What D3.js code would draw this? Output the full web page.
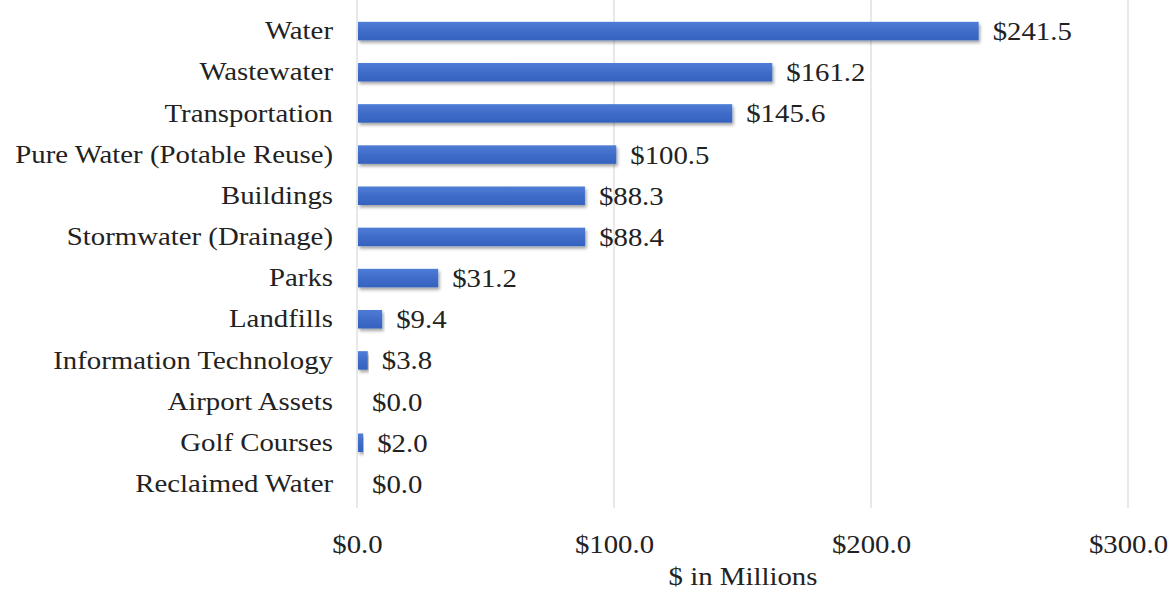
<!DOCTYPE html>
<html>
<head>
<meta charset="utf-8">
<script src="https://cdnjs.cloudflare.com/ajax/libs/d3/7.8.5/d3.min.js"></script>
<style>
  body { margin: 0; background: #fff; }
  svg text { font-family: "Liberation Serif", "Times New Roman", serif; fill: #222; }
</style>
</head>
<body>
<svg id="chart" width="1170" height="589"></svg>
<script>
const categories = [
  "Water", "Wastewater", "Transportation", "Pure Water (Potable Reuse)",
  "Buildings", "Stormwater (Drainage)", "Parks", "Landfills",
  "Information Technology", "Airport Assets", "Golf Courses", "Reclaimed Water"
];
const values = [241.5, 161.2, 145.6, 100.5, 88.3, 88.4, 31.2, 9.4, 3.8, 0.0, 2.0, 0.0];
const x_ticks = [0, 100, 200, 300];
const x_title = "$ in Millions";

const FONT = '"Liberation Serif", "Times New Roman", serif';
const FONT_SIZE = "25.5px";
const STRETCH = "scale(1.13,1)";

let svg = d3.select("#chart");
let fmt = (v) => "$" + d3.format(".1f")(v);

let x = d3.scaleLinear().domain([0, 300]).range([357, 1128]);
let y = d3.scaleBand().domain(categories).range([10.5, 504.5]).paddingInner(0.55).paddingOuter(0.275);

// Gradient and shadow for bars
let defs = svg.append("defs");
let grad = defs.append("linearGradient").attr("id", "bar-grad")
  .attr("x1", 0).attr("y1", 0).attr("x2", 0).attr("y2", 1);
grad.append("stop").attr("offset", "0%").attr("stop-color", "#4f7dd6");
grad.append("stop").attr("offset", "50%").attr("stop-color", "#3f6cc9");
grad.append("stop").attr("offset", "100%").attr("stop-color", "#3463be");
let shadow = defs.append("filter").attr("id", "shadow")
  .attr("x", "-5%").attr("y", "-30%").attr("width", "115%").attr("height", "180%");
shadow.append("feDropShadow").attr("dx", 1.5).attr("dy", 2.5)
  .attr("stdDeviation", 1.5).attr("flood-color", "#000").attr("flood-opacity", 0.35);

// Gridlines
svg.append("g").selectAll("line").data(x_ticks).join("line")
  .attr("x1", (d) => x(d)).attr("x2", (d) => x(d))
  .attr("y1", 0).attr("y2", 508)
  .style("stroke", "#d9d9d9").style("stroke-width", 1.2);

// Bars
svg.append("g").selectAll("rect").data(values).join("rect")
  .attr("x", x(0) + 1)
  .attr("y", (d, i) => y(categories[i]))
  .attr("width", (d) => Math.max(0, x(d) - x(0)))
  .attr("height", y.bandwidth())
  .attr("fill", "url(#bar-grad)")
  .attr("filter", "url(#shadow)");

// Value labels
svg.append("g").selectAll("text").data(values).join("text")
  .attr("transform", (d, i) =>
    `translate(${x(d) + 15},${y(categories[i]) + y.bandwidth() / 2}) ${STRETCH}`)
  .attr("dy", "0.35em")
  .style("font-size", FONT_SIZE)
  .text((d) => fmt(d));

// Category labels
let y_axis = d3.axisLeft(y).tickSize(0).tickPadding(0);
let yg = svg.append("g").attr("transform", `translate(333,0)`).call(y_axis);
yg.select(".domain").remove();
yg.selectAll("text").style("font-size", FONT_SIZE)
  .style("font-family", FONT)
  .attr("transform", STRETCH)
  .attr("fill", "#222");

// X axis tick labels
let x_axis = d3.axisBottom(x).tickValues(x_ticks).tickSize(0).tickPadding(0).tickFormat(fmt);
let xg = svg.append("g").attr("transform", `translate(0,535)`).call(x_axis);
xg.select(".domain").remove();
xg.selectAll("text").style("font-size", FONT_SIZE)
  .style("font-family", FONT)
  .attr("transform", STRETCH)
  .attr("fill", "#222");

// Axis title
svg.append("text")
  .attr("transform", `translate(743,584.5) ${STRETCH}`)
  .attr("text-anchor", "middle")
  .style("font-size", FONT_SIZE)
  .text(x_title);
</script>
</body>
</html>
